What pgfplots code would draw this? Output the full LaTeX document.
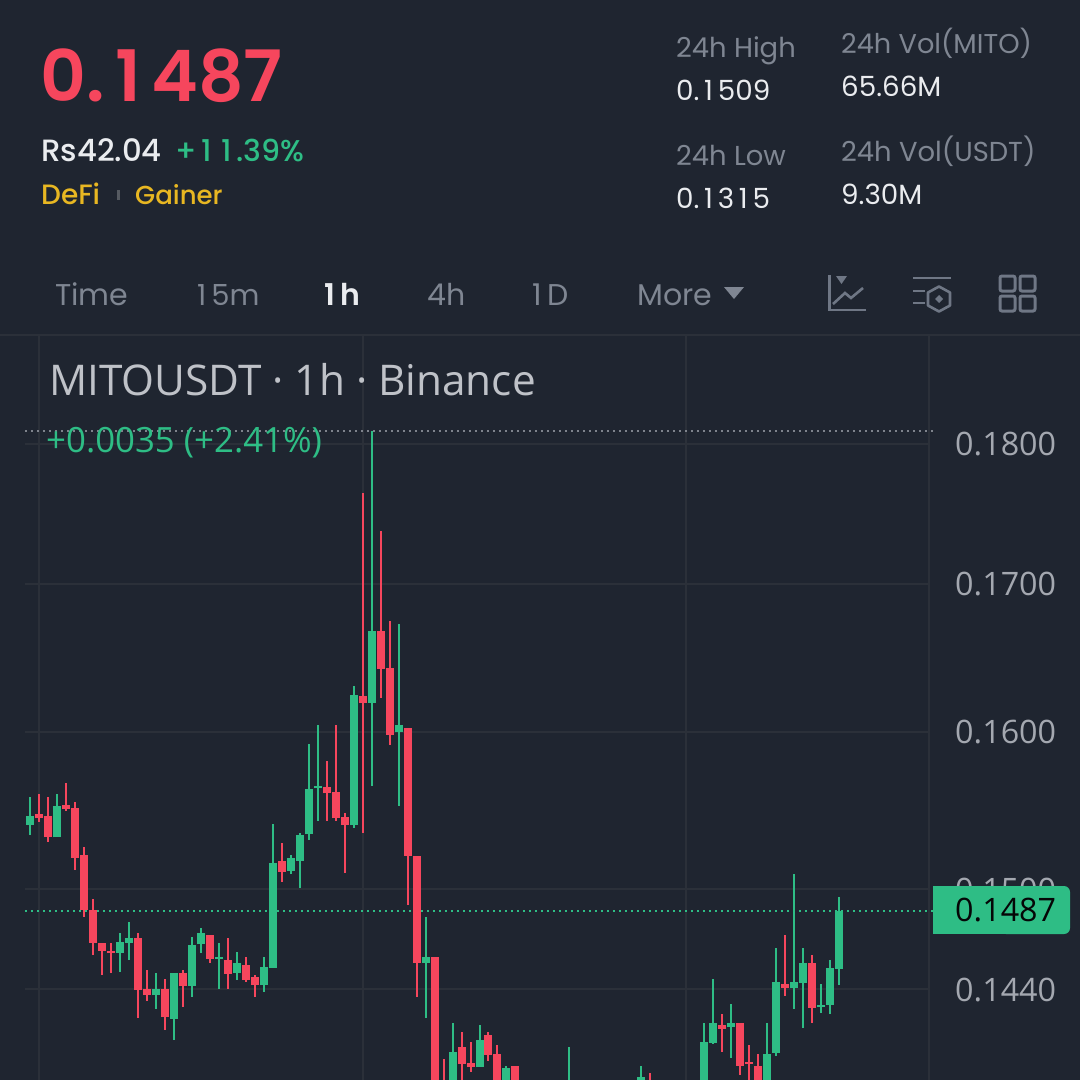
\documentclass[border=0pt]{standalone}
\usepackage{fontspec}
\usepackage{pgfplots}
\usepackage{pgfplotstable}
\pgfplotsset{compat=1.18}
\setmainfont{Liberation Sans}
\newfontfamily\pop{Poppins}
\newfontfamily\popm{Poppins Medium}
\newfontfamily\pops{Poppins SemiBold}
\newfontfamily\chartf{Open Sans}
\newcommand{\one}{\makebox[.66em][c]{1}}
\definecolor{bg}{HTML}{1F2530}
\definecolor{gridc}{HTML}{2B3039}
\definecolor{upc}{HTML}{2EBD85}
\definecolor{downc}{HTML}{F6465D}
\definecolor{yel}{HTML}{E8B722}
\definecolor{gry}{HTML}{7F8692}
\definecolor{lbl}{HTML}{A4A8B0}
\definecolor{wht}{HTML}{EAECEF}
\definecolor{ico}{HTML}{6F7785}
\definecolor{dotg}{HTML}{7E838C}
\pgfplotstableread{
i open high low close
0 .15399 .15576 .15335 .15456
3 .15323 .15595 .15323 .15519
10 .14616 .14736 .14502 .14682
11 .14676 .14802 .14574 .14706
14 .14365 .14496 .14284 .14400
16 .14227 .14496 .14105 .14496
18 .14418 .14712 .14354 .14664
19 .14670 .14766 .14616 .14736
21 .14580 .14676 .14400 .14592
23 .14496 .14622 .14454 .14556
26 .14424 .14592 .14383 .14532
27 .14526 .15405 .14526 .15165
29 .15114 .15215 .15095 .15196
30 .15177 .15348 .15006 .15335
31 .15342 .15918 .15304 .15627
32 .15633 .16047 .15424 .15646
36 .15399 .16304 .15380 .16243
38 .16189 .18093 .15646 .16676
41 .15994 .16723 .15519 .16041
44 .14556 .14832 .14232 .14592
47 .13800 .14203 .13750 .14036
50 .13949 .14192 .13949 .14105
53 .13800 .13955 .13780 .13943
60 .13720 .14065 .13650 .13780
68 .13780 .13955 .13750 .13891
75 .13800 .14203 .13750 .14094
76 .14088 .14460 .14082 .14203
78 .14180 .14313 .14001 .14203
82 .13800 .14203 .13750 .14024
83 .14030 .14646 .14013 .14442
85 .14406 .15095 .14284 .14442
86 .14436 .14646 .14175 .14556
88 .14296 .14430 .14261 .14308
89 .14308 .14574 .14255 .14526
90 .14520 .14952 .14424 .14870
}\upcandles
\pgfplotstableread{
i open high low close
1 .15468 .15595 .15418 .15443
2 .15456 .15576 .15297 .15323
4 .15525 .15665 .15487 .15500
5 .15506 .15544 .15120 .15196
6 .15215 .15266 .14832 .14874
7 .14874 .14940 .14604 .14676
8 .14676 .14676 .14484 .14628
9 .14628 .14676 .14496 .14616
12 .14706 .14736 .14232 .14394
13 .14400 .14514 .14331 .14365
15 .14400 .14460 .14163 .14238
17 .14496 .14514 .14296 .14418
20 .14724 .14724 .14556 .14580
22 .14574 .14706 .14400 .14490
24 .14544 .14592 .14442 .14454
25 .14472 .14484 .14354 .14424
28 .15177 .15285 .15044 .15108
33 .15639 .15810 .15424 .15601
34 .15608 .16047 .15424 .15443
35 .15449 .15475 .15101 .15399
37 .16236 .17640 .15354 .16189
39 .16676 .17367 .16223 .16419
40 .16426 .16743 .15911 .15981
42 .16027 .16027 .14904 .15209
43 .15203 .15203 .14354 .14556
45 .14592 .14592 .13700 .13758
46 .13845 .13995 .13700 .13750
48 .14065 .14151 .13800 .13966
49 .13972 .14094 .13920 .13949
51 .14134 .14151 .13984 .14019
52 .14024 .14076 .13800 .13850
54 .13955 .13955 .13750 .13800
69 .13850 .13914 .13750 .13800
77 .14192 .14255 .14036 .14169
79 .14203 .14203 .13903 .13955
80 .13978 .14076 .13800 .13966
81 .13955 .14024 .13750 .13800
84 .14430 .14724 .14360 .14406
87 .14556 .14604 .14203 .14290
}\downcandles
\newcommand{\candles}[2]{%
  \addplot[draw=none,forget plot,error bars/.cd,y dir=both,y explicit,error mark=none,
    error bar style={#2,line width=2pt}]
    table[x=i,y=close,y error plus expr=\thisrow{high}-\thisrow{close},y error minus expr=\thisrow{close}-\thisrow{low}] {#1};
  \addplot[draw=none,forget plot,error bars/.cd,y dir=plus,y explicit,error mark=none,
    error bar style={#2,line width=8pt}]
    table[x=i,y expr={min(\thisrow{open},\thisrow{close})},y error plus expr={abs(\thisrow{close}-\thisrow{open})}] {#1};
}
\newcommand{\txt}[4]{\node[anchor=base west,inner sep=0pt,text=#3] at (#1,#2) {#4};}
\begin{document}
\begin{tikzpicture}[x=1pt,y=-1pt]
\clip (0,0) rectangle (1080,1080);
\fill[bg] (0,0) rectangle (1080,1080);
\draw[gridc,line width=2pt] (0,335) -- (1080,335);
\begin{axis}[at={(25pt,-1080pt)},anchor=south west,scale only axis,width=905pt,height=744pt,
  xmin=-0.556,xmax=100.11,ymode=log,ymin=.13874,ymax=.18814,
  axis line style={draw=none},tick style={draw=none},
  xtick={1,37,73,100},xticklabels={},
  ytick={.144,.15,.16,.17,.18},yticklabels={0.1440,0.1500,0.1600,0.1700,0.1800},
  minor tick num=0,yminorgrids=false,
  xmajorgrids,ymajorgrids,grid style={gridc,line width=1.8pt},
  yticklabel pos=right,
  yticklabel style={font=\chartf\fontsize{32.3}{36}\selectfont,text=lbl,anchor=base west,inner sep=0pt,xshift=25pt,yshift=-12pt},
  clip=false]
\addplot[dotg,line width=2pt,dash pattern=on 2pt off 4pt,forget plot] coordinates {(-0.556,.18093) (100.45,.18093)};
\addplot[upc,line width=2pt,dash pattern=on 2pt off 4pt,forget plot] coordinates {(-0.556,.1487) (100.45,.1487)};
\candles{\upcandles}{upc}
\candles{\downcandles}{downc}
\end{axis}
% tag
\fill[upc,rounded corners=6pt] (1000,886) -- (1070,886) -- (1070,934) -- (1000,934) -- cycle;
\fill[upc] (933,886) rectangle (1040,934);
\txt{955}{921.5}{black!85!bg}{\chartf\fontsize{32.3}{36}\selectfont 0.1487}
% header
\txt{40}{101}{downc}{\pops\fontsize{71}{80}\selectfont 0.\one 487}
\txt{41}{161}{wht}{\popm\fontsize{30.8}{34}\selectfont Rs42.04}
\txt{175}{161}{upc}{\popm\fontsize{30}{34}\selectfont +\one\one.39\%}
\txt{41}{204}{yel}{\popm\fontsize{28}{32}\selectfont DeFi}
\fill[gridc!80!white] (117,190) rectangle (120,200);
\txt{135}{204}{yel}{\popm\fontsize{26}{32}\selectfont Gainer}
\txt{676}{57}{gry}{\pop\fontsize{27.4}{32}\selectfont 24h High}
\txt{676}{100}{wht}{\pop\fontsize{27.8}{32}\selectfont 0.\one 509}
\txt{841}{53}{gry}{\pop\fontsize{27.2}{32}\selectfont 24h Vol(MITO)}
\txt{841}{96}{wht}{\pop\fontsize{27.8}{32}\selectfont 65.66M}
\txt{676}{165}{gry}{\pop\fontsize{27.4}{32}\selectfont 24h Low}
\txt{676}{208}{wht}{\pop\fontsize{27.8}{32}\selectfont 0.\one 3\one 5}
\txt{841}{161}{gry}{\pop\fontsize{27.4}{32}\selectfont 24h Vol(USDT)}
\txt{841}{204}{wht}{\pop\fontsize{27.8}{32}\selectfont 9.30M}
% tabs
\txt{55}{305}{gry}{\pop\fontsize{30}{36}\selectfont Time}
\txt{192}{305}{gry}{\pop\fontsize{29}{36}\selectfont \one 5m}
\txt{320}{305}{wht}{\pops\fontsize{30}{36}\selectfont \one h}
\txt{427}{305}{gry}{\pop\fontsize{30}{36}\selectfont 4h}
\txt{527}{305}{gry}{\pop\fontsize{30}{36}\selectfont \one D}
\txt{637}{305}{gry}{\pop\fontsize{30}{36}\selectfont More}
\fill[gry] (724,287) -- (744,287) -- (734,299) -- cycle;
% icons
\draw[ico,line width=2.6pt] (829.5,275) -- (829.5,310) -- (866,310);
\fill[ico] (836,276) -- (847,276) -- (841.5,284) -- cycle;
\draw[ico,line width=2.6pt] (833,304) -- (845,293) -- (851,298) -- (863,288);
\draw[ico,line width=2.6pt] (913,278) -- (951,278) (913,291) -- (925,291) (913,303) -- (925,303);
\draw[ico,line width=2.6pt,line join=round] (939,286.5) -- (950,292.5) -- (950,305.5) -- (939,311.5) -- (928,305.5) -- (928,292.5) -- cycle;
\fill[ico] (939,295) -- (943,299) -- (939,303) -- (935,299) -- cycle;
\foreach \a/\b in {1000/276,1020/276,1000/296,1020/296}
  \draw[ico,line width=3pt,rounded corners=2pt] (\a,\b) rectangle ++(15,15);
% chart titles
\txt{49}{395}{lbl!70!white}{\chartf\fontsize{42.3}{50}\selectfont MITOUSDT · 1h · Binance}
\txt{46}{452}{upc}{\chartf\fontsize{34.8}{42}\selectfont +0.0035 (+2.41\%)}
\end{tikzpicture}
\end{document}
